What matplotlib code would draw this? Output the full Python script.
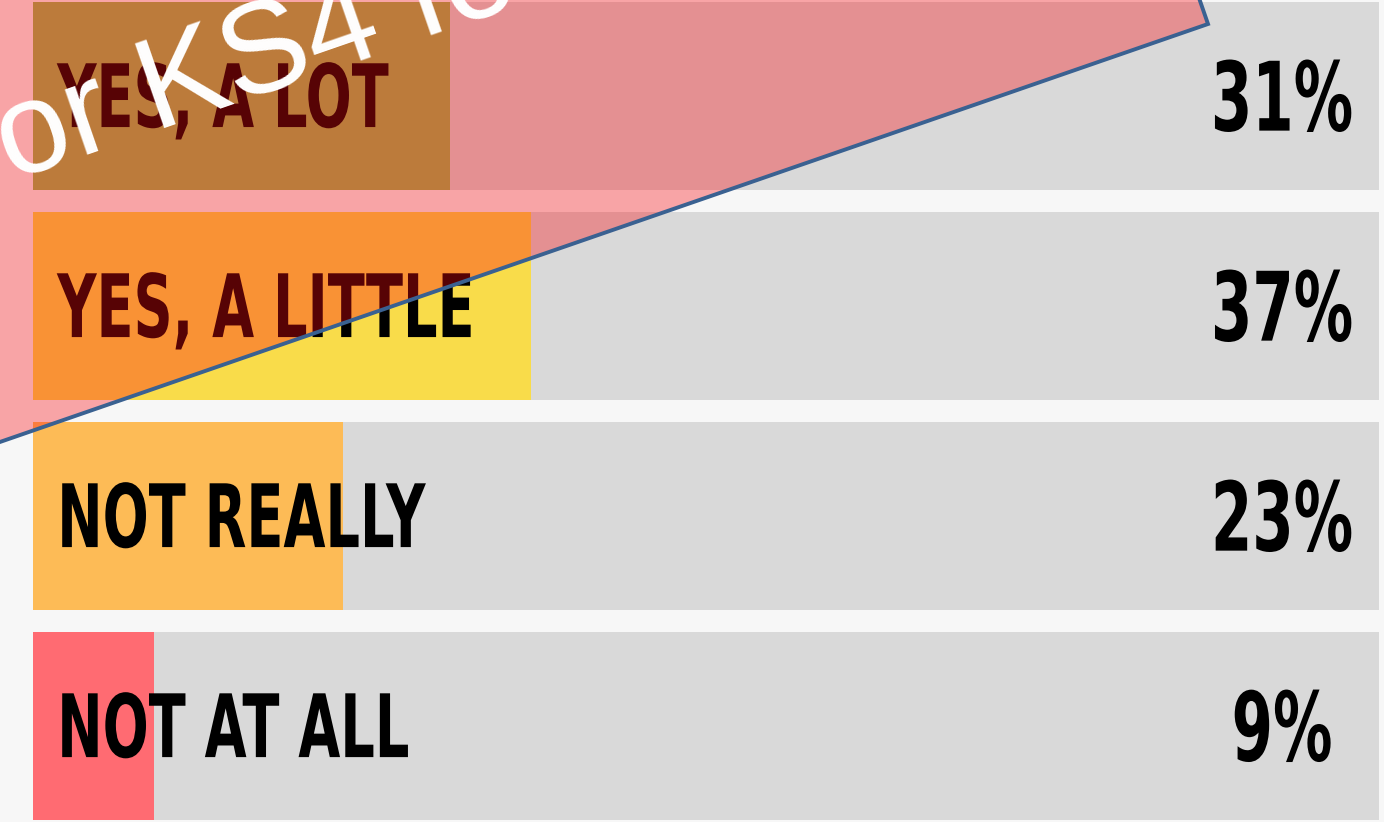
import matplotlib.pyplot as plt
from matplotlib.patches import Polygon
from matplotlib.patheffects import AbstractPathEffect
from matplotlib.transforms import Affine2D
import numpy as np

# survey answers
categories = ["YES, A LOT", "YES, A LITTLE", "NOT REALLY", "NOT AT ALL"]
values = [31, 37, 23, 9]
bar_colors = ["#9BB854", "#F9DC4A", "#FDBB56", "#FF6B72"]
labels = ["31%", "37%", "23%", "9%"]


class Squeeze(AbstractPathEffect):
    """squash glyphs horizontally around the text anchor (condensed look)"""

    def __init__(self, ax, x, sx):
        super().__init__()
        self.ax, self.x, self.sx = ax, x, sx

    def draw_path(self, renderer, gc, tpath, affine, rgbFace=None):
        x0 = self.ax.transData.transform((self.x, 0))[0]
        squash = Affine2D().translate(-x0, 0).scale(self.sx, 1).translate(x0, 0)
        renderer.draw_path(gc, tpath, affine + squash, rgbFace)


W, H = 1384, 822
SX = 0.62
fig = plt.figure(figsize=(W / 100, H / 100), dpi=100, facecolor="#F7F7F7")
ax = fig.add_axes([33 / W, 0, (1379 - 33) / W, 1])
ax.set_facecolor("#F7F7F7")

y = np.arange(len(categories))
ax.barh(y, [100] * len(y), height=0.895, color="#D9D9D9")
ax.barh(y, values, height=0.895, color=bar_colors)

pct_texts = []
for i, (cat, lab) in enumerate(zip(categories, labels)):
    ax.text(1.8, i + 0.148, cat, ha="left", va="baseline", fontsize=63,
            fontweight="bold", family="DejaVu Sans", color="black",
            path_effects=[Squeeze(ax, 1.8, SX)])
    t = ax.text(92.8, i + 0.165, lab, ha="center", va="baseline", fontsize=69,
                fontweight="bold", family="DejaVu Sans", color="black")
    pct_texts.append(t)

ax.set_xlim(0, 100)
ax.set_ylim(3.457, -0.457)
ax.axis("off")

# percent labels: centred at x=92.8 after squeezing -> anchor them on the right
fig.canvas.draw()
for t in pct_texts:
    w = t.get_window_extent().width * SX
    xr_px = ax.transData.transform((92.8, 0))[0] + w / 2
    xr = ax.transData.inverted().transform((xr_px, 0))[0]
    t.set_ha("right")
    t.set_x(xr)
    t.set_path_effects([Squeeze(ax, xr, SX)])

# pink rotated box laid over the chart (pixel coords, y from top)
ang = np.degrees(np.arctan(0.346))
c = np.cos(np.radians(ang))
s = np.sin(np.radians(ang))
br = np.array([1208.0, 24.0])
d_left = np.array([-c, s])
d_up = np.array([-s, -c])
pts = [br, br + 1600 * d_left, br + 1600 * d_left + 800 * d_up, br + 800 * d_up]
pts = [(p[0] / W, 1 - p[1] / H) for p in pts]
poly = Polygon(pts, closed=True, transform=fig.transFigure,
               facecolor=(250 / 255, 10 / 255, 15 / 255, 0.35),
               edgecolor="#3A6191", linewidth=2.8, zorder=5)
fig.patches.append(poly)

fig.text(-23 / W, 1 - 193 / H, "for KS4 fo", rotation=ang, rotation_mode="anchor",
         ha="left", va="baseline", fontsize=93.6, color="white",
         family=["Liberation Sans", "DejaVu Sans"], zorder=6)

fig.savefig("out.png", dpi=100, facecolor=fig.get_facecolor())
